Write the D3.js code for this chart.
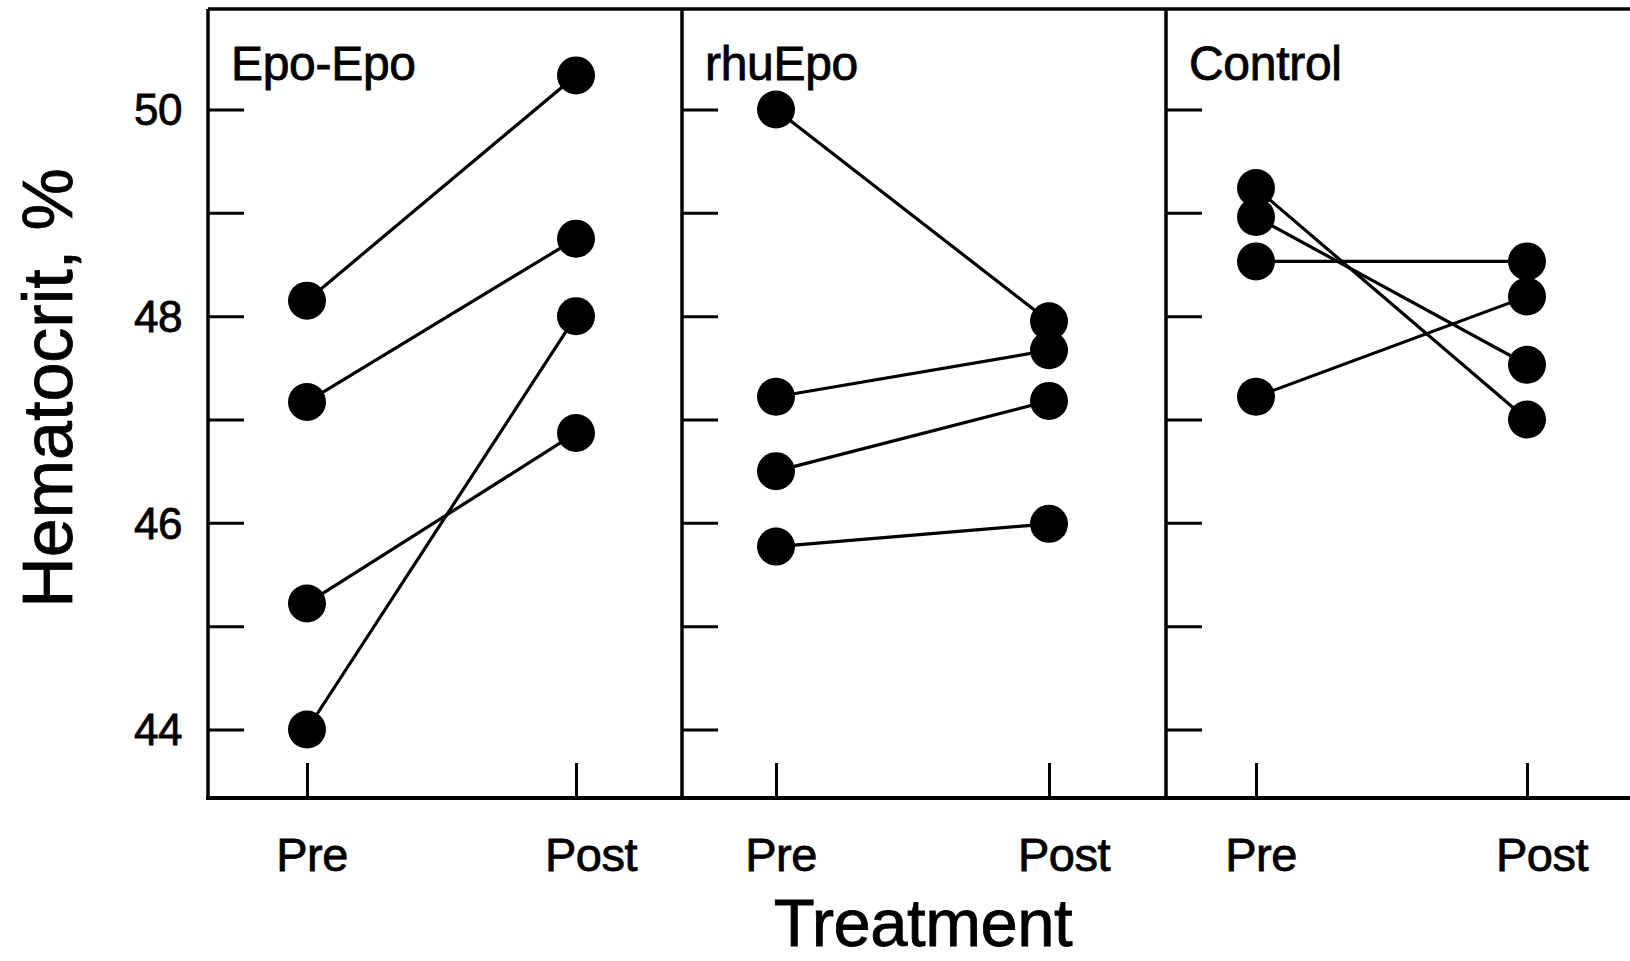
<!DOCTYPE html>
<html>
<head>
<meta charset="utf-8">
<script src="https://cdn.jsdelivr.net/npm/d3@7"></script>
<style>
  html, body { margin: 0; padding: 0; background: #fff; }
  svg { display: block; }
  text { font-family: "Liberation Sans", Arial, Helvetica, sans-serif; fill: #000; stroke: #000; stroke-width: 0.8px; }
</style>
</head>
<body>
<svg id="chart" width="1630" height="961"></svg>
<script>
// ---------------- data ----------------
const panelNames = ["Epo-Epo", "rhuEpo", "Control"];
const timepoints = ["Pre", "Post"];

const epoEpoPre  = [48.15, 47.17, 45.22, 44.00];
const epoEpoPost = [50.33, 48.75, 46.87, 48.00];

const rhuEpoPre  = [50.00, 47.22, 46.50, 45.77];
const rhuEpoPost = [47.95, 47.67, 47.18, 45.99];

const controlPre  = [49.24, 48.96, 48.53, 47.22];
const controlPost = [47.00, 47.53, 48.53, 48.19];

const yTickValues = [44, 45, 46, 47, 48, 49, 50];
const yTickLabels = ["44", "46", "48", "50"];

const yAxisTitle = "Hematocrit, %";
const xAxisTitle = "Treatment";

// ---------------- layout ----------------
const W = 1630, H = 961;
const plotTop = 9, plotBottom = 798;
const panelEdges = [208, 682, 1166, 1660];          // panel borders (last one is off-canvas)
const pointRanges = [[307, 576], [776, 1049], [1256, 1527]];
const labelShift = { Pre: 5, Post: 15 };

const preSeries  = [epoEpoPre, rhuEpoPre, controlPre];
const postSeries = [epoEpoPost, rhuEpoPost, controlPost];

const svg = d3.select("#chart");
svg.append("rect").attr("width", W).attr("height", H).attr("fill", "#fff");

const y = d3.scaleLinear().domain([44, 50]).range([729.5, 109.5]);

const frameW = 3.5, tickW = 3, lineW = 3.2, dotR = 19;

panelNames.forEach((name, i) => {
  const left = panelEdges[i], right = panelEdges[i + 1];
  const g = svg.append("g");
  const x = d3.scalePoint().domain(timepoints).range(pointRanges[i]);

  // frame: left, top
  g.append("line").attr("x1", left).attr("x2", left)
    .attr("y1", plotTop).attr("y2", plotBottom)
    .attr("stroke", "#000").attr("stroke-width", frameW);
  g.append("line").attr("x1", left).attr("x2", right)
    .attr("y1", plotTop).attr("y2", plotTop)
    .attr("stroke", "#000").attr("stroke-width", frameW);

  // inward y ticks
  g.append("g").attr("transform", `translate(${left},0)`)
    .call(d3.axisRight(y).tickValues(yTickValues).tickSize(36).tickFormat(""))
    .call(a => a.select(".domain").remove())
    .call(a => a.selectAll("line").attr("stroke", "#000").attr("stroke-width", tickW));

  // upward x ticks
  g.append("g").attr("transform", `translate(0,${plotBottom})`)
    .call(d3.axisTop(x).tickSize(35).tickFormat(""))
    .call(a => a.select(".domain").remove())
    .call(a => a.selectAll("line").attr("stroke", "#000").attr("stroke-width", tickW));

  // x tick labels
  g.selectAll("text.xl").data(timepoints).enter().append("text")
    .attr("class", "xl")
    .attr("x", d => x(d) + labelShift[d])
    .attr("y", 871)
    .attr("text-anchor", "middle")
    .attr("font-size", 47)
    .attr("letter-spacing", -0.5)
    .text(d => d);

  // panel title
  g.append("text")
    .attr("x", left + 23)
    .attr("y", 80)
    .attr("font-size", 48)
    .attr("letter-spacing", -0.3)
    .text(name);

  // subjects
  const pairs = preSeries[i].map((v, k) => ({ pre: v, post: postSeries[i][k] }));
  g.selectAll("line.subj").data(pairs).enter().append("line")
    .attr("class", "subj")
    .attr("x1", x("Pre")).attr("y1", d => y(d.pre))
    .attr("x2", x("Post")).attr("y2", d => y(d.post))
    .attr("stroke", "#000").attr("stroke-width", lineW);

  const dots = [];
  pairs.forEach(p => { dots.push({ t: "Pre", v: p.pre }); dots.push({ t: "Post", v: p.post }); });
  g.selectAll("circle").data(dots).enter().append("circle")
    .attr("cx", d => x(d.t)).attr("cy", d => y(d.v))
    .attr("r", dotR).attr("fill", "#000");
});

// bottom axis line
svg.append("line").attr("x1", panelEdges[0] - 2).attr("x2", W)
  .attr("y1", plotBottom).attr("y2", plotBottom)
  .attr("stroke", "#000").attr("stroke-width", 4);

// y tick labels (left panel only)
svg.selectAll("text.yl").data(yTickLabels).enter().append("text")
  .attr("class", "yl")
  .attr("x", 182)
  .attr("y", d => y(+d))
  .attr("dy", "0.36em")
  .attr("text-anchor", "end")
  .attr("font-size", 44)
  .attr("letter-spacing", -0.5)
  .text(d => d);

// axis titles
svg.append("text")
  .attr("transform", `translate(72,388) rotate(-90)`)
  .attr("text-anchor", "middle")
  .attr("font-size", 70)
  .text(yAxisTitle);

svg.append("text")
  .attr("x", 923)
  .attr("y", 946)
  .attr("text-anchor", "middle")
  .attr("font-size", 67)
  .attr("letter-spacing", -0.5)
  .text(xAxisTitle);
</script>
</body>
</html>
